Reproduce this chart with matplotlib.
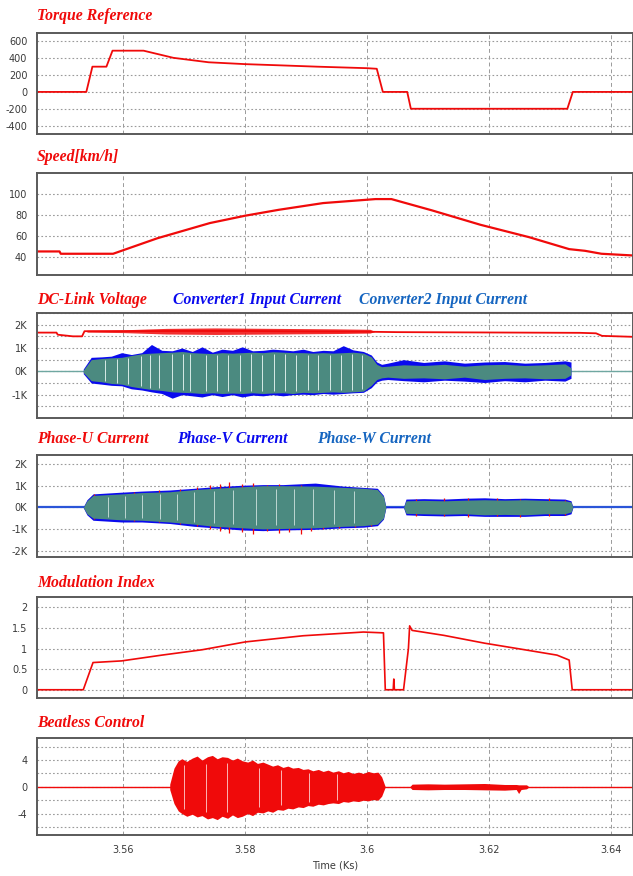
import numpy as np
import matplotlib.pyplot as plt
from matplotlib.ticker import FuncFormatter, MultipleLocator, FixedLocator

plt.rcParams['axes.unicode_minus'] = False

# ---------------- data ----------------
t_ticks = [3.56, 3.58, 3.60, 3.62, 3.64]
t_labels = ['3.56', '3.58', '3.6', '3.62', '3.64']

# Torque reference
torque_t = [3.5458, 3.5539, 3.5549, 3.5572, 3.5582, 3.5633, 3.5682, 3.5740, 3.5800,
            3.5860, 3.5918, 3.6000, 3.6016, 3.6026, 3.6066, 3.6072, 3.6329, 3.6338, 3.6436]
torque_v = [0, 0, 300, 300, 490, 490, 405, 352, 330, 315, 300, 282, 275, 0, 0,
            -200, -200, 0, 0]

# Speed [km/h]
speed_t = [3.5458, 3.5495, 3.5497, 3.5583, 3.5656, 3.5742, 3.5800, 3.5855, 3.5928,
           3.6014, 3.6040, 3.6107, 3.6186, 3.6266, 3.6332, 3.6358, 3.6385, 3.6436]
speed_v = [45.4, 45.4, 43.2, 43.2, 58.0, 72.4, 79.4, 85.0, 91.4, 95.2, 95.2, 84.4,
           70.8, 59.0, 47.6, 46.0, 43.2, 41.6]

# DC-link voltage (K)
dc_t = [3.5458, 3.5490, 3.5492, 3.5517, 3.5532, 3.5536, 3.5575, 3.5700, 3.5800,
        3.5900, 3.5990, 3.6050, 3.6150, 3.6250, 3.6350, 3.6376, 3.6386, 3.6436]
dc_v = [1.66, 1.66, 1.57, 1.50, 1.50, 1.72, 1.72, 1.73, 1.73, 1.71, 1.70, 1.68,
        1.67, 1.66, 1.65, 1.63, 1.52, 1.48]
dc_rip_t = [3.5540, 3.5600, 3.5670, 3.5750, 3.5850, 3.5950, 3.6005, 3.6012]
dc_rip_hi = [1.76, 1.78, 1.84, 1.86, 1.84, 1.82, 1.80, 1.72]
dc_rip_lo = [1.68, 1.66, 1.60, 1.58, 1.60, 1.62, 1.64, 1.70]

# Converter input currents (K): envelopes
conv_t = [3.5534, 3.5547, 3.5564, 3.5580, 3.5597, 3.5613, 3.5630, 3.5646, 3.5663, 3.5680,
          3.5696, 3.5713, 3.5729, 3.5746, 3.5762, 3.5779, 3.5795, 3.5812, 3.5829, 3.5845,
          3.5862, 3.5878, 3.5895, 3.5911, 3.5928, 3.5944, 3.5961, 3.5977, 3.5994, 3.6007,
          3.6016, 3.6024, 3.6034, 3.6060, 3.6093, 3.6127, 3.6160, 3.6193, 3.6226, 3.6259,
          3.6292, 3.6325, 3.6335]
conv2_hi = [0.05, 0.50, 0.55, 0.58, 0.60, 0.68, 0.75, 0.78, 0.80, 0.82,
            0.85, 0.80, 0.78, 0.76, 0.80, 0.78, 0.80, 0.82, 0.80, 0.84,
            0.82, 0.80, 0.80, 0.78, 0.80, 0.78, 0.80, 0.82, 0.78, 0.62,
            0.30, 0.20, 0.22, 0.28, 0.25, 0.30, 0.22, 0.28, 0.30, 0.25,
            0.28, 0.32, 0.15]
conv2_lo = [-0.05, -0.40, -0.45, -0.52, -0.55, -0.65, -0.72, -0.78, -0.82, -0.88,
            -0.90, -0.92, -0.95, -0.92, -0.95, -0.93, -0.95, -0.92, -0.95, -0.93,
            -0.92, -0.95, -0.90, -0.92, -0.90, -0.88, -0.90, -0.88, -0.85, -0.60,
            -0.35, -0.28, -0.25, -0.30, -0.28, -0.32, -0.25, -0.35, -0.30, -0.28,
            -0.32, -0.30, -0.15]
conv1_hi = [0.10, 0.60, 0.62, 0.65, 0.80, 0.72, 0.80, 1.15, 0.90, 0.88,
            1.00, 0.85, 1.05, 0.82, 0.95, 0.90, 1.05, 0.88, 0.90, 0.95,
            0.92, 0.88, 0.95, 0.85, 0.90, 0.88, 1.10, 0.92, 0.85, 0.70,
            0.40, 0.30, 0.35, 0.50, 0.38, 0.45, 0.35, 0.40, 0.42, 0.35,
            0.38, 0.45, 0.40]
conv1_lo = [-0.10, -0.50, -0.55, -0.60, -0.62, -0.75, -0.80, -0.88, -0.95, -1.15,
            -1.00, -1.05, -1.10, -1.00, -1.08, -1.00, -1.10, -1.02, -1.05, -1.00,
            -1.05, -1.00, -0.98, -1.00, -0.95, -0.98, -0.95, -0.92, -0.90, -0.70,
            -0.45, -0.38, -0.35, -0.40, -0.45, -0.38, -0.42, -0.48, -0.40, -0.45,
            -0.38, -0.42, -0.30]
conv_gap_t = [3.5569, 3.5589, 3.5608, 3.5628, 3.5644, 3.5659, 3.5679, 3.5698, 3.5710,
              3.5736, 3.5754, 3.5772, 3.5792, 3.5810, 3.5828, 3.5848, 3.5866, 3.5884,
              3.5903, 3.5920, 3.5939, 3.5957, 3.5975, 3.5992]

# Phase currents (K): envelopes
ph_t = [3.5534, 3.5540, 3.5550, 3.5597, 3.5630, 3.5676, 3.5716, 3.5749, 3.5795, 3.5829,
        3.5862, 3.5915, 3.5961, 3.5994, 3.6017, 3.6027, 3.6031, 3.6060, 3.6064, 3.6093,
        3.6127, 3.6160, 3.6193, 3.6226, 3.6259, 3.6292, 3.6325, 3.6335, 3.6338]
phw_hi = [0.0, 0.30, 0.55, 0.62, 0.68, 0.72, 0.82, 0.88, 0.95, 1.00, 1.00, 0.98, 0.92,
          0.88, 0.82, 0.50, 0.0, 0.0, 0.30, 0.32, 0.30, 0.33, 0.35, 0.33, 0.35, 0.32,
          0.30, 0.25, 0.0]
phw_lo = [0.0, -0.30, -0.50, -0.58, -0.60, -0.68, -0.78, -0.88, -0.95, -1.00, -0.98,
          -0.95, -0.88, -0.85, -0.78, -0.50, 0.0, 0.0, -0.28, -0.30, -0.32, -0.30, -0.35,
          -0.33, -0.35, -0.30, -0.30, -0.22, 0.0]
phv_hi = [0.02, 0.35, 0.62, 0.70, 0.75, 0.80, 0.88, 0.95, 1.02, 1.05, 1.05, 1.12, 0.98,
          0.92, 0.88, 0.55, 0.02, 0.02, 0.38, 0.40, 0.38, 0.42, 0.44, 0.40, 0.42, 0.40,
          0.38, 0.30, 0.02]
phv_lo = [-0.02, -0.35, -0.60, -0.68, -0.68, -0.75, -0.88, -0.95, -1.05, -1.08, -1.05,
          -1.02, -0.95, -0.92, -0.85, -0.55, -0.02, -0.02, -0.35, -0.38, -0.40, -0.38,
          -0.42, -0.42, -0.42, -0.38, -0.38, -0.30, -0.02]
phu_spk_t = [3.5552, 3.5617, 3.5658, 3.5693, 3.5721, 3.5742, 3.5759, 3.5774, 3.5795,
             3.5812, 3.5835, 3.5855, 3.5872, 3.5891, 3.5908, 3.5928, 3.5954, 3.5981,
             3.6007, 3.6080, 3.6127, 3.6166, 3.6213, 3.6252, 3.6299, 3.6325]
phu_spk_hi = [0.60, 0.72, 0.78, 0.85, 0.95, 1.05, 1.10, 1.15, 1.10, 1.12, 1.05, 1.10,
              1.00, 1.05, 0.95, 0.95, 0.90, 0.85, 0.85, 0.40, 0.45, 0.42, 0.45, 0.40,
              0.42, 0.35]
phu_spk_lo = [-0.55, -0.65, -0.70, -0.75, -0.85, -1.00, -1.10, -1.20, -1.15, -1.22,
              -1.10, -1.20, -1.15, -1.25, -1.10, -1.00, -0.95, -0.90, -0.85, -0.40,
              -0.42, -0.45, -0.40, -0.45, -0.38, -0.35]
ph_gap_t = [3.5575, 3.5602, 3.5631, 3.5660, 3.5688, 3.5716, 3.5748, 3.5780, 3.5818,
            3.5850, 3.5880, 3.5912, 3.5945, 3.5978]

# Modulation index
mod_t = [3.5458, 3.5534, 3.5550, 3.5597, 3.5663, 3.5729, 3.5800, 3.5895, 3.5994, 3.6027,
         3.6030, 3.6043, 3.6044, 3.6045, 3.6060, 3.6068, 3.6070, 3.6074, 3.6126, 3.6193,
         3.6259, 3.6312, 3.6332, 3.6337, 3.6436]
mod_v = [0, 0, 0.66, 0.70, 0.84, 0.97, 1.16, 1.31, 1.40, 1.38, 0, 0, 0.26, 0, 0, 1.0,
         1.55, 1.44, 1.32, 1.13, 0.97, 0.84, 0.72, 0, 0]

# Beatless control envelopes
beat_t = [3.5676, 3.5683, 3.5690, 3.5696, 3.5704, 3.5713, 3.5721, 3.5729, 3.5738, 3.5746,
          3.5754, 3.5762, 3.5771, 3.5779, 3.5787, 3.5795, 3.5804, 3.5812, 3.5820, 3.5829,
          3.5837, 3.5845, 3.5853, 3.5862, 3.5870, 3.5878, 3.5887, 3.5895, 3.5903, 3.5911,
          3.5920, 3.5928, 3.5936, 3.5944, 3.5953, 3.5961, 3.5969, 3.5977, 3.5986, 3.5994,
          3.6002, 3.6010, 3.6018, 3.6024, 3.6030]
beat_hi = [0.4, 2.8, 3.9, 4.2, 3.8, 4.3, 4.6, 4.0, 4.5, 4.7,
           4.2, 4.5, 4.4, 4.0, 4.3, 3.9, 3.7, 4.0, 3.5, 3.7,
           3.4, 3.1, 3.3, 2.9, 3.1, 2.8, 2.9, 2.6, 2.7, 2.4,
           2.6, 2.3, 2.5, 2.2, 2.4, 2.1, 2.3, 2.0, 2.2, 2.0,
           2.3, 2.1, 2.2, 1.5, 0.0]
beat_lo = [-0.4, -2.5, -3.6, -4.0, -4.4, -4.1, -4.5, -4.3, -4.8, -4.6,
           -4.9, -4.4, -4.7, -4.2, -4.6, -4.4, -4.0, -4.3, -3.8, -3.9,
           -3.6, -3.8, -3.4, -3.5, -3.2, -3.3, -3.0, -3.1, -2.8, -2.9,
           -2.6, -2.7, -2.5, -2.4, -2.5, -2.2, -2.3, -2.1, -2.2, -2.0,
           -2.1, -1.9, -2.0, -1.4, 0.0]
beat2_t = [3.6070, 3.6074, 3.6100, 3.6127, 3.6160, 3.6193, 3.6226, 3.6245, 3.6249,
           3.6253, 3.6262, 3.6266]
beat2_hi = [0, 0.4, 0.45, 0.4, 0.45, 0.5, 0.35, 0.35, 0.3, 0.3, 0.3, 0]
beat2_lo = [0, -0.4, -0.45, -0.4, -0.4, -0.45, -0.5, -0.4, -1.0, -0.4, -0.3, 0]
beat_gap_t = [3.5700, 3.5735, 3.5770, 3.5822, 3.5858, 3.5905, 3.5950]

# ---------------- style ----------------
RED = '#f00a0a'
BLUE = '#0a0aee'
MBLUE = '#1565c0'
TEAL = '#4b8a80'
GRID = '#9a9a9a'

W, H = 633, 876
fig = plt.figure(figsize=(W / 100, H / 100), dpi=100)

boxes = [(33, 134), (173, 275), (313, 418), (455, 557), (597, 698), (738, 835)]
x0, x1 = 37, 632.5
axes = []
for top, bot in boxes:
    ax = fig.add_axes([x0 / W, 1 - bot / H, (x1 - x0) / W, (bot - top) / H])
    ax.set_xlim(3.5458, 3.6436)
    ax.xaxis.set_major_locator(FixedLocator(t_ticks))
    ax.grid(axis='x', color=GRID, linestyle=(0, (4, 3)), linewidth=0.7)
    ax.grid(axis='y', which='both', color=GRID, linestyle=(0, (1.5, 2)), linewidth=0.8)
    ax.tick_params(which='both', length=0, labelsize=7, labelcolor='#3a3a3a', pad=7)
    for s in ax.spines.values():
        s.set_color('#5a5a5a')
        s.set_linewidth(1.4)
    ax.set_axisbelow(True)
    axes.append(ax)

for ax in axes[:-1]:
    ax.tick_params(labelbottom=False)
axes[-1].set_xticklabels(t_labels)
axes[-1].set_xlabel('Time (Ks)', fontsize=7, color='#3a3a3a', labelpad=4)

kfmt = FuncFormatter(lambda v, p: '%gK' % v)

# Torque
ax = axes[0]
ax.plot(torque_t, torque_v, color=RED, lw=1.3)
ax.set_ylim(-500, 700)
ax.set_yticks([600, 400, 200, 0, -200, -400])

# Speed
ax = axes[1]
ax.plot(speed_t, speed_v, color=RED, lw=1.6)
ax.set_ylim(23, 120)
ax.set_yticks([100, 80, 60, 40])

# DC link + converter currents
ax = axes[2]
ax.axhline(0, color='#6fa7a1', lw=1.0, zorder=1)
ax.plot(dc_t, dc_v, color=RED, lw=1.3, zorder=2)
ax.fill_between(dc_rip_t, dc_rip_lo, dc_rip_hi, color=RED, lw=0, alpha=0.85, zorder=2)
ax.fill_between(conv_t, conv1_lo, conv1_hi, color=BLUE, lw=0, zorder=3)
ax.fill_between(conv_t, conv2_lo, conv2_hi, color=TEAL, lw=0, zorder=4)
g_hi = np.interp(conv_gap_t, conv_t, conv2_hi) * 0.9
g_lo = np.interp(conv_gap_t, conv_t, conv2_lo) * 0.9
ax.vlines(conv_gap_t, g_lo, g_hi, color='#d8ebe7', lw=0.7, zorder=5)
ax.set_ylim(-2.0, 2.5)
ax.set_yticks([2, 1, 0, -1])
ax.yaxis.set_minor_locator(MultipleLocator(0.5))
ax.yaxis.set_major_formatter(kfmt)

# Phase currents
ax = axes[3]
ax.axhline(0, color='#2a55d8', lw=1.6, zorder=1)
ax.fill_between(ph_t, phv_lo, phv_hi, color=BLUE, lw=0, zorder=2)
ax.vlines(phu_spk_t, phu_spk_lo, phu_spk_hi, color=RED, lw=0.9, zorder=3)
ax.fill_between(ph_t, phw_lo, phw_hi, color=TEAL, lw=0, zorder=4)
p_hi = np.interp(ph_gap_t, ph_t, phw_hi) * 0.85
p_lo = np.interp(ph_gap_t, ph_t, phw_lo) * 0.85
ax.vlines(ph_gap_t, p_lo, p_hi, color='#cfe3df', lw=0.6, zorder=5)
ax.set_ylim(-2.3, 2.42)
ax.set_yticks([2, 1, 0, -1, -2])
ax.yaxis.set_major_formatter(kfmt)

# Modulation index
ax = axes[4]
ax.plot(mod_t, mod_v, color=RED, lw=1.2)
ax.set_ylim(-0.2, 2.25)
ax.set_yticks([2, 1.5, 1, 0.5, 0])
ax.yaxis.set_major_formatter(FuncFormatter(lambda v, p: '%g' % v))

# Beatless control
ax = axes[5]
ax.axhline(0, color=RED, lw=1.0, zorder=1)
ax.fill_between(beat_t, beat_lo, beat_hi, color=RED, lw=0, zorder=2)
ax.fill_between(beat2_t, beat2_lo, beat2_hi, color=RED, lw=0, zorder=2)
b_hi = np.interp(beat_gap_t, beat_t, beat_hi) * 0.8
b_lo = np.interp(beat_gap_t, beat_t, beat_lo) * 0.8
ax.vlines(beat_gap_t, b_lo, b_hi, color='#ffd0d0', lw=0.6, zorder=3)
ax.set_ylim(-7.2, 7.3)
ax.set_yticks([4, 0, -4])
ax.yaxis.set_minor_locator(MultipleLocator(2))

# Titles
tfont = dict(family='Liberation Serif', fontsize=11.3, fontweight='bold',
             fontstyle='italic', va='center', ha='left')
titles = [
    ('Torque Reference', 37, 16, RED),
    ('Speed[km/h]', 37, 157, RED),
    ('DC-Link Voltage', 37, 300, RED),
    ('Converter1 Input Current', 173, 300, BLUE),
    ('Converter2 Input Current', 359, 300, MBLUE),
    ('Phase-U Current', 37, 439, RED),
    ('Phase-V Current', 177, 439, BLUE),
    ('Phase-W Current', 317, 439, MBLUE),
    ('Modulation Index', 37, 583, RED),
    ('Beatless Control', 37, 723, RED),
]
for txt, px, py, col in titles:
    fig.text(px / W, 1 - py / H, txt, color=col, **tfont)

fig.savefig('out.png', dpi=100)
